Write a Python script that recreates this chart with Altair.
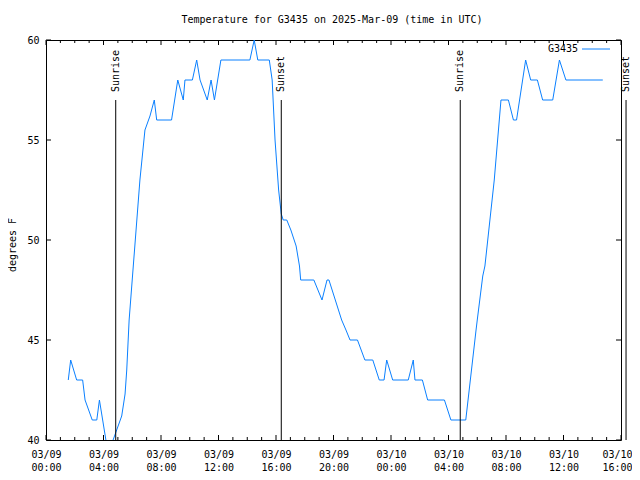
import altair as alt
import pandas as pd

# ---- data ----
times = ["03-09 01:33", "03-09 01:43", "03-09 02:08", "03-09 02:33", "03-09 02:43", "03-09 03:13",
         "03-09 03:32", "03-09 03:43", "03-09 04:10", "03-09 04:25", "03-09 04:40", "03-09 04:55",
         "03-09 05:16", "03-09 05:30", "03-09 05:37", "03-09 05:47", "03-09 06:32", "03-09 06:53",
         "03-09 07:14", "03-09 07:32", "03-09 07:42", "03-09 08:44", "03-09 09:10", "03-09 09:33",
         "03-09 09:40", "03-09 10:11", "03-09 10:29", "03-09 10:43", "03-09 11:13", "03-09 11:29",
         "03-09 11:43", "03-09 12:10", "03-09 14:11", "03-09 14:29", "03-09 14:44", "03-09 15:32",
         "03-09 15:44", "03-09 15:56", "03-09 16:11", "03-09 16:22", "03-09 16:30", "03-09 16:45",
         "03-09 17:02", "03-09 17:24", "03-09 17:38", "03-09 17:43", "03-09 18:38", "03-09 19:12",
         "03-09 19:33", "03-09 19:41", "03-09 20:34", "03-09 20:52", "03-09 21:09", "03-09 21:40",
         "03-09 22:11", "03-09 22:44", "03-09 23:11", "03-09 23:31", "03-09 23:42", "03-10 00:07",
         "03-10 01:12", "03-10 01:33", "03-10 01:40", "03-10 02:11", "03-10 02:33", "03-10 03:43",
         "03-10 04:10", "03-10 05:12", "03-10 05:55", "03-10 06:00", "03-10 06:23", "03-10 06:32",
         "03-10 07:11", "03-10 07:39", "03-10 08:10", "03-10 08:31", "03-10 08:44", "03-10 09:22",
         "03-10 09:43", "03-10 10:11", "03-10 10:33", "03-10 11:15", "03-10 11:43", "03-10 12:10",
         "03-10 14:44"]
temps = [43, 44, 43, 43, 42, 41,
         41, 42, 40, 39, 40, 40.5,
         41.2, 42.3, 43.5, 46, 53, 55.5,
         56.2, 57, 56, 56, 58, 57,
         58, 58, 59, 58, 57, 58,
         57, 59, 59, 60, 59, 59,
         58, 55, 52.5, 51.3, 51, 51,
         50.5, 49.7, 48.7, 48, 48, 47,
         48, 48, 46, 45.5, 45, 45,
         44, 44, 43, 43, 44, 43,
         43, 44, 43, 43, 42, 42,
         41, 41, 45.5, 46, 48.2, 48.7,
         53, 57, 57, 56, 56, 59,
         58, 58, 57, 57, 59, 58,
         58]

sun_times = ["03-09 04:51", "03-09 16:22", "03-10 04:49", "03-10 16:21"]
sun_labels = ["Sunrise", "Sunset", "Sunrise", "Sunset"]

y_ticks = [40, 45, 50, 55, 60]
x_major_hours = list(range(0, 41, 4))
x_minor_hours = [h for h in range(0, 41) if h % 4 != 0]

series_name = "G3435"
title_text = "Temperature for G3435 on 2025-Mar-09 (time in UTC)"
y_title = "degrees F"


def iso(t):
    return f"2025-{t[:5]}T{t[6:]}:00Z"


t0 = pd.Timestamp("2025-03-09", tz="UTC")


def ms(h):
    return int((t0 + pd.Timedelta(hours=h)).value // 10**6)


def iso_h(h):
    return (t0 + pd.Timedelta(hours=h)).strftime("%Y-%m-%dT%H:%M:%SZ")


df = pd.DataFrame({"t": [iso(t) for t in times], "temp": temps})
sun = pd.DataFrame({"t": [iso(t) for t in sun_times], "label": sun_labels})
major = pd.DataFrame({"t": [iso_h(h) for h in x_major_hours]})
minor = pd.DataFrame({"t": [iso_h(h) for h in x_minor_hours]})
yt = pd.DataFrame({"temp": y_ticks})
one = pd.DataFrame({"s": [title_text], "yt": [y_title], "name": [series_name]})

FONT = "DejaVu Sans Mono"
BLUE = "#0a80ff"

xscale = alt.Scale(type="utc", domain=[ms(0), ms(40)])
yscale = alt.Scale(domain=[40, 60], nice=False, zero=False)

xaxis = alt.Axis(
    values=[ms(h) for h in x_major_hours],
    labelExpr="[utcFormat(datum.value, '%m/%d'), utcFormat(datum.value, '%H:%M')]",
    title=None, ticks=False, domain=False, grid=False,
    labelFont=FONT, labelFontSize=10, labelColor="black",
    labelBaseline="top", labelPadding=9, labelLineHeight=13,
    labelFlush=False, labelOverlap=False, labelBound=False,
    labelOffset={"condition": {"test": f"datum.value >= {ms(40)}", "value": -4}, "value": 0},
)
yaxis = alt.Axis(
    values=y_ticks, title=None, ticks=False, domain=False, grid=False,
    labelFont=FONT, labelFontSize=10, labelColor="black", labelPadding=7,
    labelFlush=False, labelOverlap=False,
)

X = alt.X("t:T", scale=xscale, axis=xaxis)
Y = alt.Y("temp:Q", scale=yscale, axis=yaxis)

line = alt.Chart(df).mark_line(color=BLUE, strokeWidth=1, clip=True).encode(x=X, y=Y)

sun_rules = alt.Chart(sun).mark_rule(color="black", strokeWidth=1, clip=False).encode(
    x=X, y=alt.value(60), y2=alt.value(400)
)
sun_text = alt.Chart(sun).mark_text(
    angle=270, align="left", baseline="middle", font=FONT, fontSize=10, color="black"
).encode(x=X, y=alt.value(52), text="label:N")

bot_major = alt.Chart(major).mark_rule(color="black", strokeWidth=1).encode(
    x=X, y=alt.value(400), y2=alt.value(395))
top_major = alt.Chart(major).mark_rule(color="black", strokeWidth=1).encode(
    x=X, y=alt.value(0), y2=alt.value(5))
bot_minor = alt.Chart(minor).mark_rule(color="black", strokeWidth=1).encode(
    x=X, y=alt.value(400), y2=alt.value(397))
top_minor = alt.Chart(minor).mark_rule(color="black", strokeWidth=1).encode(
    x=X, y=alt.value(0), y2=alt.value(3))
left_ticks = alt.Chart(yt).mark_rule(color="black", strokeWidth=1).encode(
    y=Y, x=alt.value(0), x2=alt.value(5))
right_ticks = alt.Chart(yt).mark_rule(color="black", strokeWidth=1).encode(
    y=Y, x=alt.value(575), x2=alt.value(570))

title = alt.Chart(one).mark_text(
    font=FONT, fontSize=10, color="black", align="center", baseline="middle"
).encode(text="s:N", x=alt.value(286), y=alt.value(-20))
ytitle = alt.Chart(one).mark_text(
    font=FONT, fontSize=10, color="black", align="center", baseline="middle", angle=270
).encode(text="yt:N", x=alt.value(-33), y=alt.value(205))
leg_text = alt.Chart(one).mark_text(
    font=FONT, fontSize=10, color="black", align="right", baseline="middle"
).encode(text="name:N", x=alt.value(532), y=alt.value(9))
leg_line = alt.Chart(one).mark_rule(color=BLUE, strokeWidth=1).encode(
    x=alt.value(536), x2=alt.value(564), y=alt.value(9))

chart = alt.layer(
    line, sun_rules, sun_text, bot_major, top_major, bot_minor, top_minor,
    left_ticks, right_ticks, title, ytitle, leg_text, leg_line
).properties(
    width=575, height=400,
    padding={"left": 38, "top": 32, "right": 11, "bottom": 32},
    autosize="none",
    background="white",
).configure_view(stroke="black", strokeWidth=1)

chart.save("out.html", embed_options={"renderer": "svg", "actions": False})
